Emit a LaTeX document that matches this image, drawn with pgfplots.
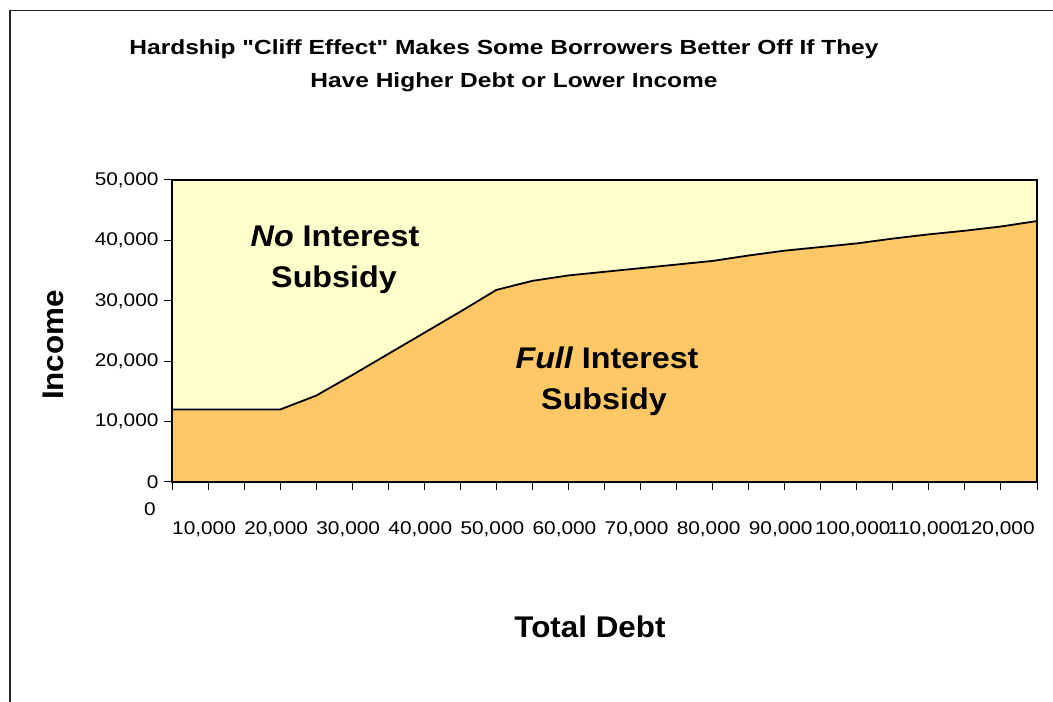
\documentclass[border=0pt]{standalone}
\usepackage{pgfplots}
\pgfplotsset{compat=1.18}
\usepackage{graphicx}
\usepackage{fontspec}
\setmainfont{Liberation Sans}[Ligatures=TeXOff]
\definecolor{bgyellow}{HTML}{FFFFCC}
\definecolor{areaor}{HTML}{FFC866}
\newcommand{\W}[2][1.13]{\scalebox{#1}[1]{#2}}
\begin{document}
\begin{tikzpicture}[x=1bp,y=1bp]
\path[use as bounding box] (0,0) rectangle (1053,702);
\draw[line width=1.5bp, black!85] (10,0) -- (10,691.5) -- (1053,691.5);
\begin{axis}[
  at={(172bp,220bp)}, anchor=south west,
  scale only axis, width=865bp, height=302bp,
  xmin=5000, xmax=125000, ymin=0, ymax=50000,
  axis background/.style={fill=bgyellow},
  axis on top,
  axis line style={black, line width=1.5bp},
  tick align=outside, xtick pos=bottom, ytick pos=left,
  major tick length=8bp, minor tick length=8bp,
  tick style={black, line width=1bp},
  xtick={10000,20000,...,120000},
  minor xtick={5000,15000,...,125000},
  ytick={0,10000,...,50000},
  scaled x ticks=false, scaled y ticks=false,
  /pgf/number format/.cd, 1000 sep={,}, fixed, precision=0, assume math mode=true,
  /pgfplots/.cd,
  ticklabel style={font=\fontsize{18.5}{22}\selectfont},
  xticklabel={\W{\pgfmathprintnumber{\tick}}},
  yticklabel={\W{\pgfmathprintnumber{\tick}}},
  xticklabel style={xshift=-4bp, yshift=-28bp},
  yticklabel style={xshift=-2bp},
]
\addplot[fill=areaor, draw=none] coordinates {
(5000,12000) (10000,12000) (15000,12000) (20000,12000) (25000,14300)
(30000,17700) (35000,21200) (40000,24700) (45000,28200) (50000,31800)
(55000,33300) (60000,34200) (65000,34800) (70000,35400) (75000,36000)
(80000,36600) (85000,37500) (90000,38300) (95000,38900) (100000,39500)
(105000,40300) (110000,41000) (115000,41600) (120000,42300) (125000,43200)
} \closedcycle;
\addplot[black, line width=1.8bp] coordinates {
(5000,12000) (10000,12000) (15000,12000) (20000,12000) (25000,14300)
(30000,17700) (35000,21200) (40000,24700) (45000,28200) (50000,31800)
(55000,33300) (60000,34200) (65000,34800) (70000,35400) (75000,36000)
(80000,36600) (85000,37500) (90000,38300) (95000,38900) (100000,39500)
(105000,40300) (110000,41000) (115000,41600) (120000,42300) (125000,43200)
};
\end{axis}
% titles
\node[anchor=base, inner sep=0] at (504,647) {\W[1.2]{\fontsize{20.5}{24}\selectfont\bfseries Hardship "Cliff Effect" Makes Some Borrowers Better Off If They}};
\node[anchor=base, inner sep=0] at (514,614) {\W[1.2]{\fontsize{20.5}{24}\selectfont\bfseries Have Higher Debt or Lower Income}};
\node[anchor=base, inner sep=0, rotate=90] at (63,357) {\W[1.05]{\fontsize{30}{36}\selectfont\bfseries Income}};
\node[anchor=base, inner sep=0] at (590,64) {\W[1.05]{\fontsize{30}{36}\selectfont\bfseries Total Debt}};
\node[anchor=base, inner sep=0] at (150,186) {\W{\fontsize{18.5}{22}\selectfont 0}};
% region labels
\node[anchor=base, inner sep=0] at (335,455) {\W[1.08]{\fontsize{30}{36}\selectfont\bfseries\itshape No\upshape\ Interest}};
\node[anchor=base, inner sep=0] at (334,414) {\W[1.08]{\fontsize{30}{36}\selectfont\bfseries Subsidy}};
\node[anchor=base, inner sep=0] at (607,333) {\W[1.08]{\fontsize{30}{36}\selectfont\bfseries\itshape Full\upshape\ Interest}};
\node[anchor=base, inner sep=0] at (604,292) {\W[1.08]{\fontsize{30}{36}\selectfont\bfseries Subsidy}};
\end{tikzpicture}
\end{document}
